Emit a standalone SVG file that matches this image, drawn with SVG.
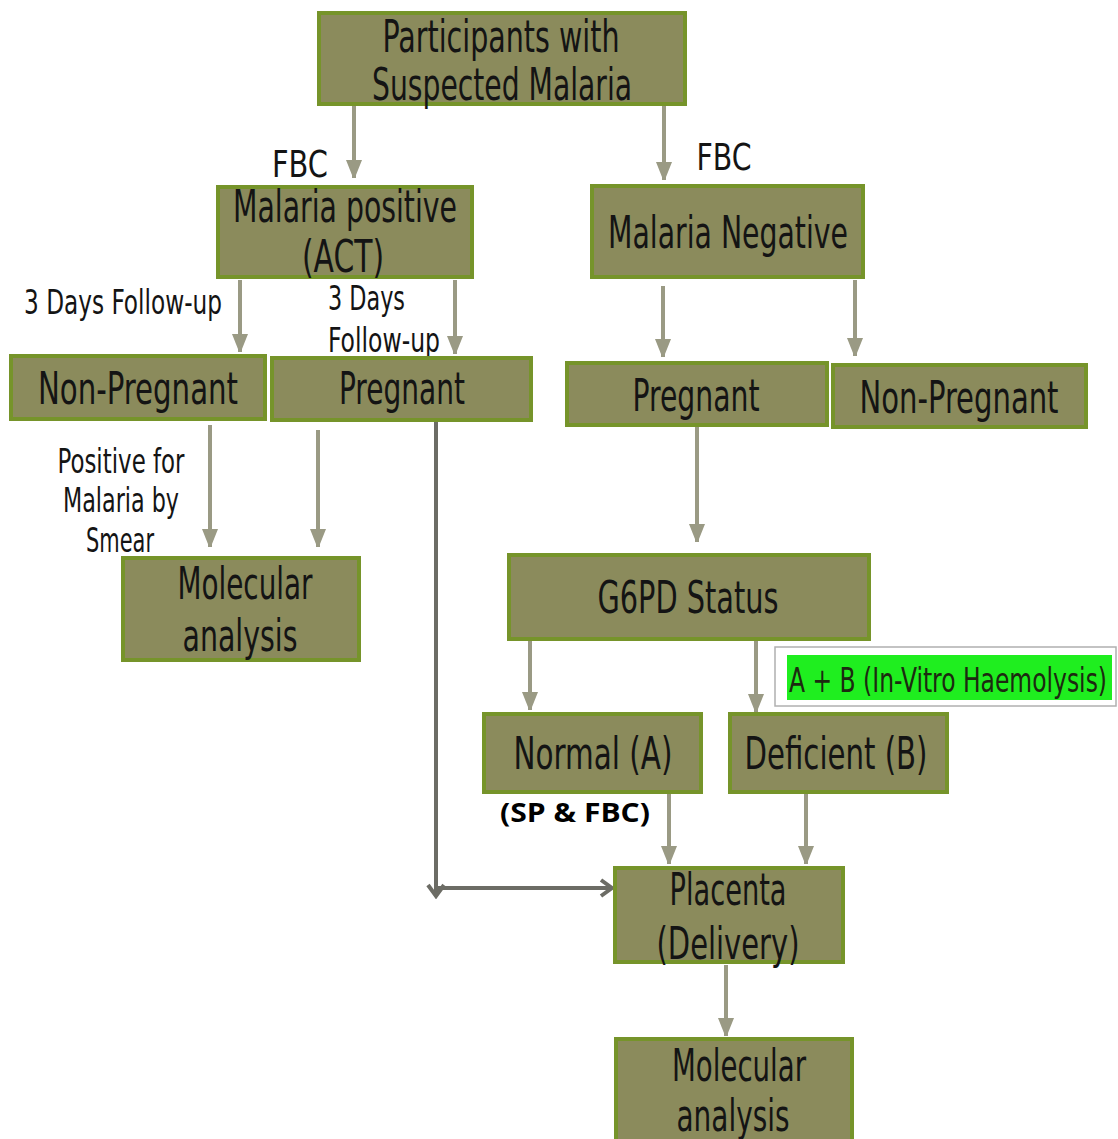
<svg xmlns="http://www.w3.org/2000/svg" width="1118" height="1139" viewBox="0 0 1118 1139">
<style>
.box{fill:#8b8b5c;stroke:#76942a;stroke-width:4}
.t{font-family:"DejaVu Sans Condensed","DejaVu Sans",sans-serif;font-size:44px;fill:#141414}
.l{font-family:"DejaVu Sans Condensed","DejaVu Sans",sans-serif;font-size:33px;fill:#141414}
.arr{stroke:#9a9a84;stroke-width:4;fill:none;marker-end:url(#ah)}
.dk{stroke:#6c6c65;stroke-width:4;fill:none}
</style>
<defs>
<marker id="ah" markerUnits="userSpaceOnUse" markerWidth="18" markerHeight="22" refX="18" refY="8" orient="auto">
<path d="M0,0 L20,8 L0,16 Z" fill="#9a9a84"/>
</marker>
<marker id="oh" markerUnits="userSpaceOnUse" markerWidth="16" markerHeight="20" refX="13" refY="10" orient="auto">
<path d="M2,2 L13,10 L2,18" fill="none" stroke="#6c6c65" stroke-width="4"/>
</marker>
</defs>
<rect width="1118" height="1139" fill="#ffffff"/>
<g id="connectors">
<line class="arr" x1="354" y1="106" x2="354" y2="178"/>
<line class="arr" x1="664" y1="106" x2="664" y2="180"/>
<line class="arr" x1="240" y1="280" x2="240" y2="352"/>
<line class="arr" x1="455" y1="280" x2="455" y2="354"/>
<line class="arr" x1="663" y1="286" x2="663" y2="357"/>
<line class="arr" x1="855" y1="280" x2="855" y2="356"/>
<line class="arr" x1="210" y1="425" x2="210" y2="547"/>
<line class="arr" x1="318" y1="430" x2="318" y2="547"/>
<line class="arr" x1="697" y1="427" x2="697" y2="542"/>
<line class="arr" x1="530" y1="641" x2="530" y2="710"/>
<line class="arr" x1="756" y1="641" x2="756" y2="712"/>
<line class="arr" x1="669" y1="794" x2="669" y2="864"/>
<line class="arr" x1="806" y1="794" x2="806" y2="864"/>
<line class="arr" x1="726" y1="965" x2="726" y2="1036"/>
<line class="dk" x1="436" y1="422" x2="436" y2="896" marker-end="url(#oh)"/>
<line class="dk" x1="436" y1="888" x2="612" y2="888" marker-end="url(#oh)"/>
</g>
<g id="n-participants">
<rect class="box" x="319" y="13" width="366" height="91"/>
<text class="t" x="501" y="52" text-anchor="middle" textLength="237" lengthAdjust="spacingAndGlyphs">Participants with</text>
<text class="t" x="502" y="100" text-anchor="middle" textLength="260" lengthAdjust="spacingAndGlyphs">Suspected Malaria</text>
</g>
<g id="lbl-fbc">
<text class="l" x="300" y="177" text-anchor="middle" textLength="56" lengthAdjust="spacingAndGlyphs" style="font-size:38px">FBC</text>
<text class="l" x="724" y="170" text-anchor="middle" textLength="55" lengthAdjust="spacingAndGlyphs" style="font-size:38px">FBC</text>
</g>
<g id="n-positive">
<rect class="box" x="218" y="187" width="254" height="90"/>
<text class="t" x="345" y="222" text-anchor="middle" textLength="224" lengthAdjust="spacingAndGlyphs">Malaria positive</text>
<text class="t" x="343" y="272" text-anchor="middle" textLength="82" lengthAdjust="spacingAndGlyphs">(ACT)</text>
</g>
<g id="n-negative">
<rect class="box" x="592" y="186" width="271" height="91"/>
<text class="t" x="728" y="248" text-anchor="middle" textLength="240" lengthAdjust="spacingAndGlyphs">Malaria Negative</text>
</g>
<g id="lbl-followup">
<text class="l" x="24" y="314" textLength="198" lengthAdjust="spacingAndGlyphs">3 Days Follow-up</text>
<text class="l" x="328" y="310" textLength="77" lengthAdjust="spacingAndGlyphs">3 Days</text>
<text class="l" x="328" y="352" textLength="112" lengthAdjust="spacingAndGlyphs">Follow-up</text>
</g>
<g id="n-nonpreg-left">
<rect class="box" x="11" y="356" width="254" height="63"/>
<text class="t" x="138" y="404" text-anchor="middle" textLength="200" lengthAdjust="spacingAndGlyphs">Non-Pregnant</text>
</g>
<g id="n-preg-left">
<rect class="box" x="272" y="358" width="259" height="62"/>
<text class="t" x="402" y="404" text-anchor="middle" textLength="126" lengthAdjust="spacingAndGlyphs">Pregnant</text>
</g>
<g id="n-preg-right">
<rect class="box" x="567" y="363" width="260" height="62"/>
<text class="t" x="696" y="411" text-anchor="middle" textLength="127" lengthAdjust="spacingAndGlyphs">Pregnant</text>
</g>
<g id="n-nonpreg-right">
<rect class="box" x="833" y="365" width="253" height="62"/>
<text class="t" x="959" y="413" text-anchor="middle" textLength="199" lengthAdjust="spacingAndGlyphs">Non-Pregnant</text>
</g>
<g id="lbl-smear">
<text class="l" x="121" y="473" text-anchor="middle" textLength="127" lengthAdjust="spacingAndGlyphs">Positive for</text>
<text class="l" x="121" y="512" text-anchor="middle" textLength="116" lengthAdjust="spacingAndGlyphs">Malaria by</text>
<text class="l" x="120" y="552" text-anchor="middle" textLength="68" lengthAdjust="spacingAndGlyphs">Smear</text>
</g>
<g id="n-molecular-left">
<rect class="box" x="123" y="558" width="236" height="102"/>
<text class="t" x="245" y="599" text-anchor="middle" textLength="135" lengthAdjust="spacingAndGlyphs">Molecular</text>
<text class="t" x="240" y="651" text-anchor="middle" textLength="115" lengthAdjust="spacingAndGlyphs">analysis</text>
</g>
<g id="n-g6pd">
<rect class="box" x="509" y="555" width="360" height="84"/>
<text class="t" x="688" y="613" text-anchor="middle" textLength="181" lengthAdjust="spacingAndGlyphs">G6PD Status</text>
</g>
<g id="lbl-ab">
<rect x="775" y="647" width="341" height="59" fill="#ffffff" stroke="#b0b0b0" stroke-width="1.5"/>
<rect x="787" y="655" width="325" height="45" fill="#1fee1f"/>
<text class="l" x="789" y="692" textLength="318" lengthAdjust="spacingAndGlyphs" style="fill:#1c2a10">A + B (In-Vitro Haemolysis)</text>
</g>
<g id="n-normal">
<rect class="box" x="484" y="714" width="217" height="78"/>
<text class="t" x="593" y="769" text-anchor="middle" textLength="159" lengthAdjust="spacingAndGlyphs">Normal (A)</text>
</g>
<g id="n-deficient">
<rect class="box" x="730" y="714" width="217" height="78"/>
<text class="t" x="836" y="769" text-anchor="middle" textLength="183" lengthAdjust="spacingAndGlyphs">Deficient (B)</text>
</g>
<g id="lbl-sp">
<text x="575" y="822" text-anchor="middle" font-family="'Open Sans','Liberation Sans',sans-serif" font-weight="bold" font-size="27" fill="#000" textLength="150" lengthAdjust="spacingAndGlyphs">(SP &amp; FBC)</text>
</g>
<g id="n-placenta">
<rect class="box" x="615" y="868" width="228" height="94"/>
<text class="t" x="728" y="905" text-anchor="middle" textLength="117" lengthAdjust="spacingAndGlyphs">Placenta</text>
<text class="t" x="728" y="959" text-anchor="middle" textLength="143" lengthAdjust="spacingAndGlyphs">(Delivery)</text>
</g>
<g id="n-molecular-bottom">
<rect class="box" x="616" y="1039" width="236" height="104"/>
<text class="t" x="739" y="1081" text-anchor="middle" textLength="134" lengthAdjust="spacingAndGlyphs">Molecular</text>
<text class="t" x="733" y="1131" text-anchor="middle" textLength="113" lengthAdjust="spacingAndGlyphs">analysis</text>
</g>
</svg>
